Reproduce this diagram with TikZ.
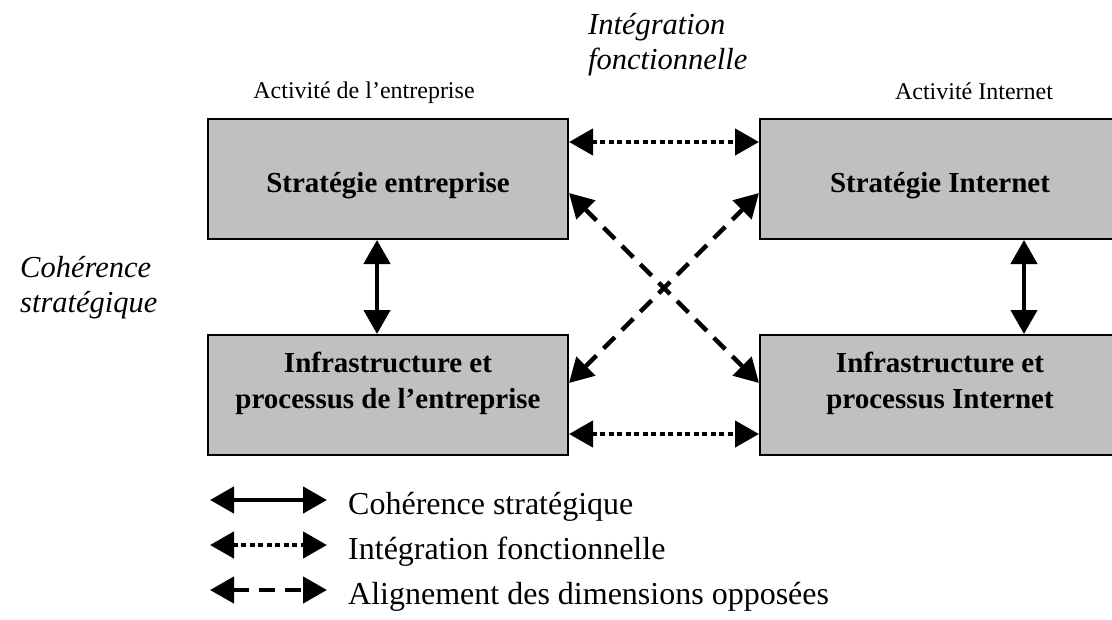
\documentclass[tikz,border=0pt]{standalone}
\usepackage{fontspec}
\setmainfont{Liberation Serif}
\usetikzlibrary{arrows.meta,calc}
\definecolor{boxgray}{RGB}{192,192,192}
\tikzset{
  box/.style={draw=black, line width=2pt, fill=boxgray, minimum width=360pt, minimum height=120pt, inner sep=0pt},
  boxtext/.style={font=\fontsize{29}{36}\selectfont\bfseries, align=center, anchor=base, inner sep=0pt},
  smalllabel/.style={font=\fontsize{24}{28}\selectfont, anchor=base, inner sep=0pt},
  itlabel/.style={font=\fontsize{30.5}{34.5}\selectfont\itshape, align=left, anchor=base west, inner sep=0pt},
  legtext/.style={font=\fontsize{32}{36}\selectfont, anchor=base west, inner sep=0pt},
  twohead/.style={line width=4.5pt, {Triangle[length=24pt,width=26pt]}-{Triangle[length=24pt,width=26pt]}},
  cohline/.style={twohead},
  integline/.style={twohead, dash pattern=on 5pt off 3.5pt},
  oppline/.style={twohead, dash pattern=on 16pt off 10pt},
}
\begin{document}
\begin{tikzpicture}[x=1pt,y=-1pt]
\clip (0,0) rectangle (1112,619);
\fill[white] (0,0) rectangle (1112,619);

% boxes
\node[box] (se) at (388,179) {};
\node[box] (si) at (940,179) {};
\node[box] (ie) at (388,395) {};
\node[box] (ii) at (940,395) {};

% box texts (anchor base = baseline of the last line)
\node[boxtext] (tse) at (388,192) {Stratégie entreprise};
\node[boxtext] (tsi) at (940,192) {Stratégie Internet};
\node[boxtext] (tie) at (388,408) {Infrastructure et\\processus de l’entreprise};
\node[boxtext] (tii) at (940,408) {Infrastructure et\\processus Internet};

% labels
\node[smalllabel] (lae) at (364,98) {Activité de l’entreprise};
\node[smalllabel] (lai) at (974,99) {Activité Internet};
\node[itlabel] (lif) at (588,69) {Intégration\\fonctionnelle};
\node[itlabel] (lcs) at (20,312) {Cohérence\\stratégique};

% coherence (vertical)
\draw[cohline] ($(se.south)+(-11,0)$) -- ($(ie.north)+(-11,0)$);
\draw[cohline] ($(si.south)+(84,0)$) -- ($(ii.north)+(84,0)$);

% integration (dotted horizontal)
\draw[integline] ($(se.north east)+(0,24)$) -- ($(si.north west)+(0,24)$);
\draw[integline] ($(ie.south east)+(0,-22)$) -- ($(ii.south west)+(0,-22)$);

% opposite dimensions (dashed diagonals)
\draw[oppline] ($(se.north east)+(0,75)$) -- ($(ii.north west)+(0,49)$);
\draw[oppline] ($(ie.north east)+(0,49)$) -- ($(si.north west)+(0,75)$);

% legend
\coordinate (a1) at (210,500); \coordinate (b1) at (327,500);
\coordinate (a2) at (210,545); \coordinate (b2) at (327,545);
\coordinate (a3) at (210,590); \coordinate (b3) at (327,590);
\draw[cohline] (a1) -- (b1);
\draw[integline] (a2) -- (b2);
\draw[oppline] (a3) -- (b3);
\node[legtext] (g1) at (348,514) {Cohérence stratégique};
\node[legtext] (g2) at (348,559) {Intégration fonctionnelle};
\node[legtext] (g3) at (348,604) {Alignement des dimensions opposées};
\end{tikzpicture}
\end{document}
